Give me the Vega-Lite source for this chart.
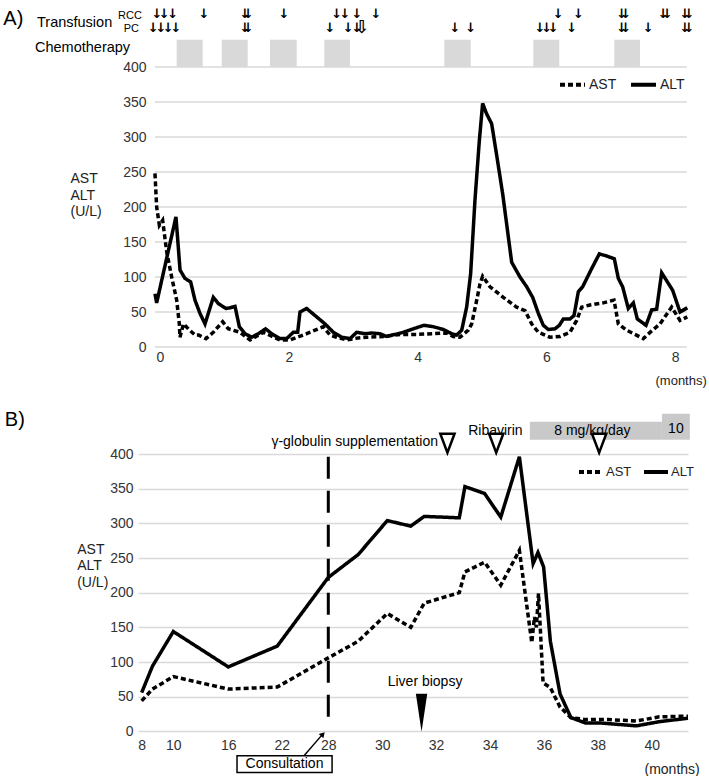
{
  "$schema": "https://vega.github.io/schema/vega-lite/v6.json",
  "background": "white",
  "padding": {"left": 3, "top": 7, "right": 0, "bottom": 0},
  "spacing": 22,
  "config": {
    "font": "Liberation Sans",
    "view": {"stroke": null},
    "axis": {"labelFont": "Liberation Sans", "labelFontSize": 14, "labelColor": "#333333", "labelOverlap": false, "labelFlush": false, "titleFont": "Liberation Sans", "titleFontSize": 14, "titleFontWeight": "normal", "titleColor": "#222222", "domain": false, "ticks": false, "grid": false},
    "legend": {"labelFont": "Liberation Sans", "labelColor": "#222222"}
  },
  "resolve": {"scale": {"strokeDash": "independent"}, "legend": {"strokeDash": "independent"}},
  "datasets": {
    "gridA": [{"g": 0}, {"g": 50}, {"g": 100}, {"g": 150}, {"g": 200}, {"g": 250}, {"g": 300}, {"g": 350}, {"g": 400}],
    "chemo": [{"start": 0.259, "end": 0.663}, {"start": 0.958, "end": 1.362}, {"start": 1.708, "end": 2.123}, {"start": 2.551, "end": 2.95}, {"start": 4.415, "end": 4.825}, {"start": 5.797, "end": 6.2}, {"start": 7.055, "end": 7.453}],
    "rcc": [{"m": -0.047}, {"m": 0.067}, {"m": 0.197}, {"m": 0.683}, {"m": 1.32}, {"m": 1.371}, {"m": 1.925}, {"m": 2.744}, {"m": 2.873}, {"m": 3.059}, {"m": 3.354}, {"m": 6.185}, {"m": 6.496}, {"m": 7.169}, {"m": 7.231}, {"m": 7.815}, {"m": 7.877}, {"m": 8.152}, {"m": 8.214}],
    "pc": [{"m": -0.104}, {"m": 0.016}, {"m": 0.129}, {"m": 0.248}, {"m": 1.32}, {"m": 1.371}, {"m": 2.64}, {"m": 2.924}, {"m": 3.059}, {"m": 4.581}, {"m": 4.825}, {"m": 5.901}, {"m": 6.005}, {"m": 6.107}, {"m": 6.393}, {"m": 7.169}, {"m": 7.231}, {"m": 7.582}, {"m": 8.152}, {"m": 8.214}],
    "labA": [
      {"s": "ALT", "m": -0.078, "v": 76}, {"s": "ALT", "m": -0.052, "v": 63}, {"s": "ALT", "m": 0.248, "v": 186}, {"s": "ALT", "m": 0.311, "v": 110}, {"s": "ALT", "m": 0.388, "v": 98}, {"s": "ALT", "m": 0.476, "v": 93}, {"s": "ALT", "m": 0.543, "v": 67}, {"s": "ALT", "m": 0.621, "v": 48}, {"s": "ALT", "m": 0.699, "v": 33}, {"s": "ALT", "m": 0.828, "v": 71}, {"s": "ALT", "m": 0.906, "v": 62}, {"s": "ALT", "m": 1.025, "v": 55}, {"s": "ALT", "m": 1.087, "v": 56}, {"s": "ALT", "m": 1.165, "v": 58}, {"s": "ALT", "m": 1.232, "v": 29}, {"s": "ALT", "m": 1.32, "v": 19}, {"s": "ALT", "m": 1.423, "v": 14}, {"s": "ALT", "m": 1.527, "v": 19}, {"s": "ALT", "m": 1.64, "v": 26}, {"s": "ALT", "m": 1.734, "v": 19}, {"s": "ALT", "m": 1.863, "v": 12}, {"s": "ALT", "m": 1.967, "v": 12}, {"s": "ALT", "m": 2.07, "v": 21}, {"s": "ALT", "m": 2.138, "v": 21}, {"s": "ALT", "m": 2.174, "v": 50}, {"s": "ALT", "m": 2.277, "v": 55}, {"s": "ALT", "m": 2.433, "v": 43}, {"s": "ALT", "m": 2.562, "v": 33}, {"s": "ALT", "m": 2.692, "v": 21}, {"s": "ALT", "m": 2.821, "v": 14}, {"s": "ALT", "m": 2.95, "v": 12}, {"s": "ALT", "m": 3.054, "v": 21}, {"s": "ALT", "m": 3.183, "v": 19}, {"s": "ALT", "m": 3.287, "v": 20}, {"s": "ALT", "m": 3.416, "v": 19}, {"s": "ALT", "m": 3.52, "v": 15}, {"s": "ALT", "m": 3.649, "v": 18}, {"s": "ALT", "m": 3.778, "v": 21}, {"s": "ALT", "m": 3.934, "v": 26}, {"s": "ALT", "m": 4.099, "v": 31}, {"s": "ALT", "m": 4.244, "v": 29}, {"s": "ALT", "m": 4.4, "v": 25}, {"s": "ALT", "m": 4.529, "v": 19}, {"s": "ALT", "m": 4.607, "v": 17}, {"s": "ALT", "m": 4.685, "v": 24}, {"s": "ALT", "m": 4.762, "v": 57}, {"s": "ALT", "m": 4.824, "v": 105}, {"s": "ALT", "m": 4.891, "v": 210}, {"s": "ALT", "m": 4.959, "v": 295}, {"s": "ALT", "m": 5.01, "v": 348}, {"s": "ALT", "m": 5.072, "v": 333}, {"s": "ALT", "m": 5.15, "v": 319}, {"s": "ALT", "m": 5.228, "v": 274}, {"s": "ALT", "m": 5.321, "v": 219}, {"s": "ALT", "m": 5.461, "v": 121}, {"s": "ALT", "m": 5.59, "v": 100}, {"s": "ALT", "m": 5.694, "v": 86}, {"s": "ALT", "m": 5.787, "v": 71}, {"s": "ALT", "m": 5.875, "v": 48}, {"s": "ALT", "m": 5.952, "v": 31}, {"s": "ALT", "m": 6.03, "v": 25}, {"s": "ALT", "m": 6.134, "v": 26}, {"s": "ALT", "m": 6.201, "v": 31}, {"s": "ALT", "m": 6.263, "v": 40}, {"s": "ALT", "m": 6.366, "v": 40}, {"s": "ALT", "m": 6.429, "v": 45}, {"s": "ALT", "m": 6.496, "v": 79}, {"s": "ALT", "m": 6.563, "v": 86}, {"s": "ALT", "m": 6.703, "v": 112}, {"s": "ALT", "m": 6.822, "v": 133}, {"s": "ALT", "m": 6.936, "v": 130}, {"s": "ALT", "m": 7.055, "v": 126}, {"s": "ALT", "m": 7.117, "v": 98}, {"s": "ALT", "m": 7.184, "v": 86}, {"s": "ALT", "m": 7.272, "v": 55}, {"s": "ALT", "m": 7.35, "v": 63}, {"s": "ALT", "m": 7.412, "v": 40}, {"s": "ALT", "m": 7.547, "v": 31}, {"s": "ALT", "m": 7.635, "v": 53}, {"s": "ALT", "m": 7.712, "v": 54}, {"s": "ALT", "m": 7.79, "v": 106}, {"s": "ALT", "m": 7.961, "v": 81}, {"s": "ALT", "m": 8.075, "v": 50}, {"s": "ALT", "m": 8.188, "v": 56},
      {"s": "AST", "m": -0.078, "v": 248}, {"s": "AST", "m": -0.052, "v": 200}, {"s": "AST", "m": -0.01, "v": 174}, {"s": "AST", "m": 0.041, "v": 181}, {"s": "AST", "m": 0.104, "v": 136}, {"s": "AST", "m": 0.181, "v": 100}, {"s": "AST", "m": 0.259, "v": 67}, {"s": "AST", "m": 0.3, "v": 33}, {"s": "AST", "m": 0.31, "v": 14}, {"s": "AST", "m": 0.365, "v": 33}, {"s": "AST", "m": 0.45, "v": 25}, {"s": "AST", "m": 0.545, "v": 17}, {"s": "AST", "m": 0.6, "v": 17}, {"s": "AST", "m": 0.714, "v": 12}, {"s": "AST", "m": 0.828, "v": 21}, {"s": "AST", "m": 0.973, "v": 36}, {"s": "AST", "m": 1.061, "v": 26}, {"s": "AST", "m": 1.242, "v": 21}, {"s": "AST", "m": 1.398, "v": 10}, {"s": "AST", "m": 1.605, "v": 21}, {"s": "AST", "m": 1.863, "v": 10}, {"s": "AST", "m": 2.019, "v": 10}, {"s": "AST", "m": 2.277, "v": 19}, {"s": "AST", "m": 2.536, "v": 29}, {"s": "AST", "m": 2.64, "v": 17}, {"s": "AST", "m": 2.743, "v": 14}, {"s": "AST", "m": 2.899, "v": 10}, {"s": "AST", "m": 3.08, "v": 13}, {"s": "AST", "m": 3.209, "v": 14}, {"s": "AST", "m": 3.468, "v": 15}, {"s": "AST", "m": 3.727, "v": 18}, {"s": "AST", "m": 3.986, "v": 18}, {"s": "AST", "m": 4.244, "v": 19}, {"s": "AST", "m": 4.451, "v": 20}, {"s": "AST", "m": 4.555, "v": 15}, {"s": "AST", "m": 4.659, "v": 14}, {"s": "AST", "m": 4.788, "v": 24}, {"s": "AST", "m": 4.84, "v": 33}, {"s": "AST", "m": 4.907, "v": 62}, {"s": "AST", "m": 4.969, "v": 90}, {"s": "AST", "m": 5.01, "v": 101}, {"s": "AST", "m": 5.124, "v": 86}, {"s": "AST", "m": 5.331, "v": 71}, {"s": "AST", "m": 5.538, "v": 57}, {"s": "AST", "m": 5.668, "v": 52}, {"s": "AST", "m": 5.771, "v": 33}, {"s": "AST", "m": 5.875, "v": 21}, {"s": "AST", "m": 6.056, "v": 14}, {"s": "AST", "m": 6.211, "v": 15}, {"s": "AST", "m": 6.366, "v": 21}, {"s": "AST", "m": 6.47, "v": 38}, {"s": "AST", "m": 6.548, "v": 57}, {"s": "AST", "m": 6.677, "v": 60}, {"s": "AST", "m": 6.884, "v": 63}, {"s": "AST", "m": 7.05, "v": 67}, {"s": "AST", "m": 7.117, "v": 33}, {"s": "AST", "m": 7.246, "v": 24}, {"s": "AST", "m": 7.376, "v": 18}, {"s": "AST", "m": 7.505, "v": 12}, {"s": "AST", "m": 7.635, "v": 23}, {"s": "AST", "m": 7.764, "v": 33}, {"s": "AST", "m": 7.945, "v": 57}, {"s": "AST", "m": 8.075, "v": 38}, {"s": "AST", "m": 8.188, "v": 43}
    ],
    "labB": [
      {"s": "ALT", "m": 8, "v": 56}, {"s": "ALT", "m": 8.68, "v": 94}, {"s": "ALT", "m": 10, "v": 144}, {"s": "ALT", "m": 16, "v": 93}, {"s": "ALT", "m": 21.5, "v": 123}, {"s": "ALT", "m": 28, "v": 222}, {"s": "ALT", "m": 29.11, "v": 255}, {"s": "ALT", "m": 30.19, "v": 304}, {"s": "ALT", "m": 31.06, "v": 296}, {"s": "ALT", "m": 31.56, "v": 310}, {"s": "ALT", "m": 32.86, "v": 308}, {"s": "ALT", "m": 33.07, "v": 353}, {"s": "ALT", "m": 33.8, "v": 343}, {"s": "ALT", "m": 34.4, "v": 309}, {"s": "ALT", "m": 35.09, "v": 396}, {"s": "ALT", "m": 35.6, "v": 242}, {"s": "ALT", "m": 35.78, "v": 258}, {"s": "ALT", "m": 35.99, "v": 237}, {"s": "ALT", "m": 36.24, "v": 130}, {"s": "ALT", "m": 36.6, "v": 54}, {"s": "ALT", "m": 37.0, "v": 20}, {"s": "ALT", "m": 37.55, "v": 12}, {"s": "ALT", "m": 38.13, "v": 12}, {"s": "ALT", "m": 39.43, "v": 8}, {"s": "ALT", "m": 40.28, "v": 14}, {"s": "ALT", "m": 41.35, "v": 19},
      {"s": "AST", "m": 8, "v": 44}, {"s": "AST", "m": 8.68, "v": 61}, {"s": "AST", "m": 10, "v": 79}, {"s": "AST", "m": 16, "v": 61}, {"s": "AST", "m": 21.5, "v": 64}, {"s": "AST", "m": 28, "v": 106}, {"s": "AST", "m": 29.11, "v": 130}, {"s": "AST", "m": 30.19, "v": 170}, {"s": "AST", "m": 31.06, "v": 150}, {"s": "AST", "m": 31.56, "v": 185}, {"s": "AST", "m": 32.86, "v": 200}, {"s": "AST", "m": 33.07, "v": 230}, {"s": "AST", "m": 33.8, "v": 244}, {"s": "AST", "m": 34.4, "v": 211}, {"s": "AST", "m": 35.09, "v": 261}, {"s": "AST", "m": 35.55, "v": 128}, {"s": "AST", "m": 35.65, "v": 165}, {"s": "AST", "m": 35.72, "v": 150}, {"s": "AST", "m": 35.8, "v": 199}, {"s": "AST", "m": 35.97, "v": 70}, {"s": "AST", "m": 36.24, "v": 63}, {"s": "AST", "m": 36.6, "v": 35}, {"s": "AST", "m": 37.0, "v": 20}, {"s": "AST", "m": 37.55, "v": 17}, {"s": "AST", "m": 38.4, "v": 17}, {"s": "AST", "m": 39.43, "v": 15}, {"s": "AST", "m": 40.28, "v": 21}, {"s": "AST", "m": 41.35, "v": 22}
    ],
    "tri": [{"m": 32.42, "event": "γ-globulin"}, {"m": 34.23, "event": "Ribavirin"}, {"m": 38.05, "event": "dose up"}],
    "dose": [{"start": 35.48, "end": 40.38, "dose": "8"}]
  },
  "vconcat": [
    {
      "width": 550,
      "height": 280,
      "layer": [
        {
          "data": {"name": "gridA"},
          "mark": {"type": "rule", "color": "#d9d9d9", "strokeWidth": 1.5},
          "encoding": {
            "y": {"field": "g", "type": "quantitative", "scale": {"domain": [0, 400], "nice": false, "zero": false}},
            "x": {"datum": -0.078, "type": "quantitative", "scale": {"domain": [-0.3416, 8.199], "nice": false, "zero": false}},
            "x2": {"datum": 8.18}
          }
        },
        {
          "data": {"name": "chemo"},
          "mark": {"type": "rect", "color": "#d9d9d9"},
          "encoding": {
            "x": {"field": "start", "type": "quantitative", "scale": {"domain": [-0.3416, 8.199], "nice": false, "zero": false}},
            "x2": {"field": "end"},
            "y": {"datum": 439, "type": "quantitative", "scale": {"domain": [0, 400], "nice": false, "zero": false}},
            "y2": {"datum": 400}
          }
        },
        {
          "data": {"name": "rcc"},
          "mark": {"type": "text", "text": "↓", "font": "DejaVu Sans", "fontSize": 13, "fontWeight": "bold", "baseline": "middle", "align": "center", "color": "black"},
          "encoding": {
            "x": {"field": "m", "type": "quantitative", "scale": {"domain": [-0.3416, 8.199], "nice": false, "zero": false}},
            "y": {"datum": 476, "type": "quantitative", "scale": {"domain": [0, 400], "nice": false, "zero": false}}
          }
        },
        {
          "data": {"name": "pc"},
          "mark": {"type": "text", "text": "↓", "font": "DejaVu Sans", "fontSize": 13, "fontWeight": "bold", "baseline": "middle", "align": "center", "color": "black"},
          "encoding": {
            "x": {"field": "m", "type": "quantitative", "scale": {"domain": [-0.3416, 8.199], "nice": false, "zero": false}},
            "y": {"datum": 455.3, "type": "quantitative", "scale": {"domain": [0, 400], "nice": false, "zero": false}}
          }
        },
        {
          "data": {"values": [{}]},
          "mark": {"type": "text", "text": "⇩", "font": "DejaVu Sans", "fontSize": 18, "fontWeight": "bold", "baseline": "middle", "align": "center", "color": "black"},
          "encoding": {
            "x": {"datum": 3.137, "type": "quantitative", "scale": {"domain": [-0.3416, 8.199], "nice": false, "zero": false}},
            "y": {"datum": 456, "type": "quantitative", "scale": {"domain": [0, 400], "nice": false, "zero": false}}
          }
        },
        {
          "data": {"values": [{}]},
          "mark": {"type": "text", "text": "A)", "fontSize": 20, "baseline": "alphabetic", "align": "left", "color": "black"},
          "encoding": {
            "x": {"datum": -2.433, "type": "quantitative", "scale": {"domain": [-0.3416, 8.199], "nice": false, "zero": false}},
            "y": {"datum": 459.6, "type": "quantitative", "scale": {"domain": [0, 400], "nice": false, "zero": false}}
          }
        },
        {
          "data": {"values": [{}]},
          "mark": {"type": "text", "text": "Transfusion", "fontSize": 14.5, "baseline": "alphabetic", "align": "left", "color": "black"},
          "encoding": {
            "x": {"datum": -1.91, "type": "quantitative", "scale": {"domain": [-0.3416, 8.199], "nice": false, "zero": false}},
            "y": {"datum": 457.1, "type": "quantitative", "scale": {"domain": [0, 400], "nice": false, "zero": false}}
          }
        },
        {
          "data": {"values": [{}]},
          "mark": {"type": "text", "text": "RCC", "fontSize": 11, "baseline": "alphabetic", "align": "right", "color": "black"},
          "encoding": {
            "x": {"datum": -0.28, "type": "quantitative", "scale": {"domain": [-0.3416, 8.199], "nice": false, "zero": false}},
            "y": {"datum": 469.1, "type": "quantitative", "scale": {"domain": [0, 400], "nice": false, "zero": false}}
          }
        },
        {
          "data": {"values": [{}]},
          "mark": {"type": "text", "text": "PC", "fontSize": 11, "baseline": "alphabetic", "align": "right", "color": "black"},
          "encoding": {
            "x": {"datum": -0.326, "type": "quantitative", "scale": {"domain": [-0.3416, 8.199], "nice": false, "zero": false}},
            "y": {"datum": 450, "type": "quantitative", "scale": {"domain": [0, 400], "nice": false, "zero": false}}
          }
        },
        {
          "data": {"values": [{}]},
          "mark": {"type": "text", "text": "Chemotherapy", "fontSize": 14.5, "baseline": "alphabetic", "align": "left", "color": "black"},
          "encoding": {
            "x": {"datum": -1.941, "type": "quantitative", "scale": {"domain": [-0.3416, 8.199], "nice": false, "zero": false}},
            "y": {"datum": 422, "type": "quantitative", "scale": {"domain": [0, 400], "nice": false, "zero": false}}
          }
        },
        {
          "data": {"name": "labA"},
          "mark": {"type": "line", "color": "black", "strokeWidth": 3.5},
          "encoding": {
            "x": {"field": "m", "type": "quantitative", "scale": {"domain": [-0.3416, 8.199], "nice": false, "zero": false},
                  "axis": {"values": [0, 2, 4, 6, 8], "format": "d", "labelOverlap": false, "labelPadding": 3, "title": "(months)", "titleFontSize": 13, "titleAlign": "left", "titleBaseline": "alphabetic", "titleX": 517, "titleY": 37}},
            "y": {"field": "v", "type": "quantitative", "scale": {"domain": [0, 400], "nice": false, "zero": false},
                  "axis": {"values": [0, 50, 100, 150, 200, 250, 300, 350, 400], "format": "d", "labelOverlap": false, "tickCount": 9, "offset": -17, "labelPadding": 9, "title": ["AST", "ALT", "(U/L)"], "titleAngle": 0, "titleAlign": "left", "titleBaseline": "alphabetic", "titleX": -85, "titleY": 115.6, "titleLineHeight": 16.5}},
            "strokeDash": {"field": "s", "type": "nominal", "scale": {"domain": ["AST", "ALT"], "range": [[5, 3], [1, 0]]},
                  "legend": {"orient": "none", "legendX": 420, "legendY": 3, "direction": "horizontal", "title": null, "symbolType": "stroke", "symbolSize": 625, "symbolStrokeWidth": 4, "symbolStrokeColor": "black", "labelFontSize": 14, "labelOffset": 2, "columnPadding": 6}}
          }
        }
      ]
    },
    {
      "width": 550,
      "height": 277.4,
      "layer": [
        {
          "data": {"name": "dose"},
          "mark": {"type": "rect", "color": "#c9c9c9"},
          "encoding": {
            "x": {"field": "start", "type": "quantitative", "scale": {"domain": [7.77, 8, 10, 16, 22, 28, 40, 41.35], "range": [0, 3.7, 35.3, 90.3, 143.7, 190.3, 513.7, 550], "nice": false, "zero": false}},
            "x2": {"field": "end"},
            "y": {"datum": 446.6, "type": "quantitative", "scale": {"domain": [0, 400], "nice": false, "zero": false}},
            "y2": {"datum": 420.6}
          }
        },
        {
          "data": {"values": [{}]},
          "mark": {"type": "rect", "color": "#c9c9c9"},
          "encoding": {
            "x": {"datum": 40.38, "type": "quantitative", "scale": {"domain": [7.77, 8, 10, 16, 22, 28, 40, 41.35], "range": [0, 3.7, 35.3, 90.3, 143.7, 190.3, 513.7, 550], "nice": false, "zero": false}},
            "x2": {"datum": 41.42},
            "y": {"datum": 458, "type": "quantitative", "scale": {"domain": [0, 400], "nice": false, "zero": false}},
            "y2": {"datum": 420.6}
          }
        },
        {
          "data": {"values": [{}]},
          "mark": {"type": "text", "text": "8 mg/kg/day", "fontSize": 14, "baseline": "middle", "align": "center", "color": "black"},
          "encoding": {
            "x": {"datum": 37.8, "type": "quantitative", "scale": {"domain": [7.77, 8, 10, 16, 22, 28, 40, 41.35], "range": [0, 3.7, 35.3, 90.3, 143.7, 190.3, 513.7, 550], "nice": false, "zero": false}},
            "y": {"datum": 433.6, "type": "quantitative", "scale": {"domain": [0, 400], "nice": false, "zero": false}}
          }
        },
        {
          "data": {"values": [{}]},
          "mark": {"type": "text", "text": "10", "fontSize": 14, "baseline": "middle", "align": "center", "color": "black"},
          "encoding": {
            "x": {"datum": 40.9, "type": "quantitative", "scale": {"domain": [7.77, 8, 10, 16, 22, 28, 40, 41.35], "range": [0, 3.7, 35.3, 90.3, 143.7, 190.3, 513.7, 550], "nice": false, "zero": false}},
            "y": {"datum": 436.5, "type": "quantitative", "scale": {"domain": [0, 400], "nice": false, "zero": false}}
          }
        },
        {
          "data": {"values": [{}]},
          "mark": {"type": "text", "text": "Ribavirin", "fontSize": 14, "baseline": "middle", "align": "center", "color": "black"},
          "encoding": {
            "x": {"datum": 34.2, "type": "quantitative", "scale": {"domain": [7.77, 8, 10, 16, 22, 28, 40, 41.35], "range": [0, 3.7, 35.3, 90.3, 143.7, 190.3, 513.7, 550], "nice": false, "zero": false}},
            "y": {"datum": 433.6, "type": "quantitative", "scale": {"domain": [0, 400], "nice": false, "zero": false}}
          }
        },
        {
          "data": {"values": [{}]},
          "mark": {"type": "text", "text": "γ-globulin supplementation", "fontSize": 14, "baseline": "middle", "align": "right", "color": "black"},
          "encoding": {
            "x": {"datum": 32.07, "type": "quantitative", "scale": {"domain": [7.77, 8, 10, 16, 22, 28, 40, 41.35], "range": [0, 3.7, 35.3, 90.3, 143.7, 190.3, 513.7, 550], "nice": false, "zero": false}},
            "y": {"datum": 417.7, "type": "quantitative", "scale": {"domain": [0, 400], "nice": false, "zero": false}}
          }
        },
        {
          "data": {"name": "tri"},
          "mark": {"type": "point", "shape": "M-0.75,-1L0.75,-1L0,1Z", "size": 361, "filled": true, "fill": "white", "stroke": "black", "strokeWidth": 2.5, "opacity": 1},
          "encoding": {
            "x": {"field": "m", "type": "quantitative", "scale": {"domain": [7.77, 8, 10, 16, 22, 28, 40, 41.35], "range": [0, 3.7, 35.3, 90.3, 143.7, 190.3, 513.7, 550], "nice": false, "zero": false}},
            "y": {"datum": 415.6, "type": "quantitative", "scale": {"domain": [0, 400], "nice": false, "zero": false}}
          }
        },
        {
          "data": {"values": [{}]},
          "mark": {"type": "text", "text": "B)", "fontSize": 20, "baseline": "alphabetic", "align": "left", "color": "black"},
          "encoding": {
            "x": {"datum": -0.51, "type": "quantitative", "scale": {"domain": [7.77, 8, 10, 16, 22, 28, 40, 41.35], "range": [0, 3.7, 35.3, 90.3, 143.7, 190.3, 513.7, 550], "nice": false, "zero": false}},
            "y": {"datum": 440.8, "type": "quantitative", "scale": {"domain": [0, 400], "nice": false, "zero": false}}
          }
        },
        {
          "data": {"values": [{}]},
          "mark": {"type": "rule", "color": "black", "strokeWidth": 3, "strokeDash": [22, 12]},
          "encoding": {
            "x": {"datum": 28, "type": "quantitative", "scale": {"domain": [7.77, 8, 10, 16, 22, 28, 40, 41.35], "range": [0, 3.7, 35.3, 90.3, 143.7, 190.3, 513.7, 550], "nice": false, "zero": false}},
            "y": {"datum": 396, "type": "quantitative", "scale": {"domain": [0, 400], "nice": false, "zero": false}},
            "y2": {"datum": 6}
          }
        },
        {
          "data": {"values": [{}]},
          "mark": {"type": "point", "shape": "M-0.3,-1L0.3,-1L0,1Z", "size": 1444, "filled": true, "color": "black", "opacity": 1},
          "encoding": {
            "x": {"datum": 31.46, "type": "quantitative", "scale": {"domain": [7.77, 8, 10, 16, 22, 28, 40, 41.35], "range": [0, 3.7, 35.3, 90.3, 143.7, 190.3, 513.7, 550], "nice": false, "zero": false}},
            "y": {"datum": 27, "type": "quantitative", "scale": {"domain": [0, 400], "nice": false, "zero": false}}
          }
        },
        {
          "data": {"values": [{}]},
          "mark": {"type": "text", "text": "Liver biopsy", "fontSize": 14, "baseline": "middle", "align": "center", "color": "black"},
          "encoding": {
            "x": {"datum": 31.59, "type": "quantitative", "scale": {"domain": [7.77, 8, 10, 16, 22, 28, 40, 41.35], "range": [0, 3.7, 35.3, 90.3, 143.7, 190.3, 513.7, 550], "nice": false, "zero": false}},
            "y": {"datum": 71.7, "type": "quantitative", "scale": {"domain": [0, 400], "nice": false, "zero": false}}
          }
        },
        {
          "data": {"values": [{}]},
          "mark": {"type": "rect", "fill": "white", "stroke": "black", "strokeWidth": 1.5},
          "encoding": {
            "x": {"datum": 16.98, "type": "quantitative", "scale": {"domain": [7.77, 8, 10, 16, 22, 28, 40, 41.35], "range": [0, 3.7, 35.3, 90.3, 143.7, 190.3, 513.7, 550], "nice": false, "zero": false}},
            "x2": {"datum": 28.14},
            "y": {"datum": -35, "type": "quantitative", "scale": {"domain": [0, 400], "nice": false, "zero": false}},
            "y2": {"datum": -59.1}
          }
        },
        {
          "data": {"values": [{}]},
          "mark": {"type": "text", "text": "Consultation", "fontSize": 14, "baseline": "middle", "align": "center", "color": "black"},
          "encoding": {
            "x": {"datum": 22.36, "type": "quantitative", "scale": {"domain": [7.77, 8, 10, 16, 22, 28, 40, 41.35], "range": [0, 3.7, 35.3, 90.3, 143.7, 190.3, 513.7, 550], "nice": false, "zero": false}},
            "y": {"datum": -47.3, "type": "quantitative", "scale": {"domain": [0, 400], "nice": false, "zero": false}}
          }
        },
        {
          "data": {"values": [{}]},
          "mark": {"type": "rule", "color": "black", "strokeWidth": 1.5},
          "encoding": {
            "x": {"datum": 24.87, "type": "quantitative", "scale": {"domain": [7.77, 8, 10, 16, 22, 28, 40, 41.35], "range": [0, 3.7, 35.3, 90.3, 143.7, 190.3, 513.7, 550], "nice": false, "zero": false}},
            "x2": {"datum": 27.2},
            "y": {"datum": -35, "type": "quantitative", "scale": {"domain": [0, 400], "nice": false, "zero": false}},
            "y2": {"datum": -5}
          }
        },
        {
          "data": {"values": [{}]},
          "mark": {"type": "point", "shape": "triangle-up", "size": 40, "filled": true, "color": "black", "angle": 42, "opacity": 1},
          "encoding": {
            "x": {"datum": 27.3, "type": "quantitative", "scale": {"domain": [7.77, 8, 10, 16, 22, 28, 40, 41.35], "range": [0, 3.7, 35.3, 90.3, 143.7, 190.3, 513.7, 550], "nice": false, "zero": false}},
            "y": {"datum": -4, "type": "quantitative", "scale": {"domain": [0, 400], "nice": false, "zero": false}}
          }
        },
        {
          "data": {"name": "labB"},
          "mark": {"type": "line", "color": "black", "strokeWidth": 3.5},
          "encoding": {
            "x": {"field": "m", "type": "quantitative", "scale": {"domain": [7.77, 8, 10, 16, 22, 28, 40, 41.35], "range": [0, 3.7, 35.3, 90.3, 143.7, 190.3, 513.7, 550], "nice": false, "zero": false},
                  "axis": {"values": [8, 10, 16, 22, 28, 30, 32, 34, 36, 38, 40], "format": "d", "labelOverlap": false, "labelPadding": 7, "title": "(months)", "titleAlign": "left", "titleBaseline": "alphabetic", "titleX": 506, "titleY": 42.3}},
            "y": {"field": "v", "type": "quantitative", "scale": {"domain": [0, 400], "nice": false, "zero": false},
                  "axis": {"values": [0, 50, 100, 150, 200, 250, 300, 350, 400], "format": "d", "labelOverlap": false, "tickCount": 9, "grid": true, "gridColor": "#d9d9d9", "gridWidth": 1.5, "labelPadding": 5, "title": ["AST", "ALT", "(U/L)"], "titleAngle": 0, "titleAlign": "left", "titleBaseline": "alphabetic", "titleX": -61.3, "titleY": 99, "titleLineHeight": 16.5}},
            "strokeDash": {"field": "s", "type": "nominal", "scale": {"domain": ["AST", "ALT"], "range": [[5, 3], [1, 0]]},
                  "legend": {"orient": "none", "legendX": 439, "legendY": 4, "direction": "horizontal", "title": null, "symbolType": "stroke", "symbolSize": 576, "symbolStrokeWidth": 4, "symbolStrokeColor": "black", "labelFontSize": 13, "labelOffset": 1, "columnPadding": 4}}
          }
        }
      ]
    }
  ]
}
